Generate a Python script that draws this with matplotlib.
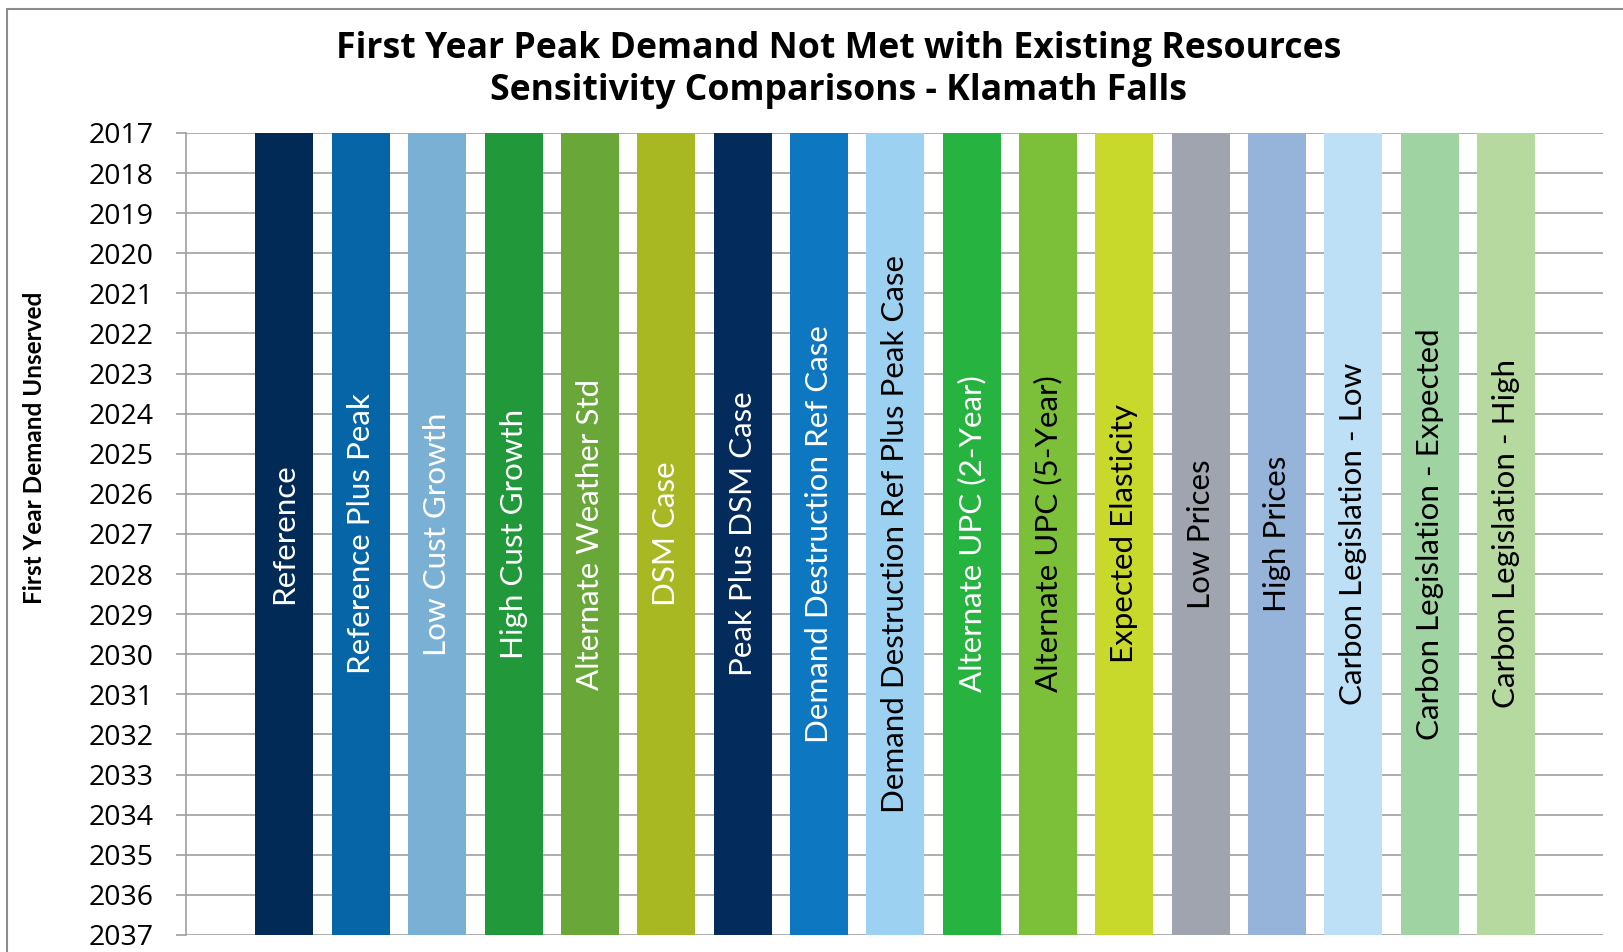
import matplotlib
matplotlib.use("Agg")
import matplotlib.pyplot as plt
from matplotlib.patches import Rectangle

plt.rcParams['font.family'] = ['Lato', 'DejaVu Sans']

cases = ["Reference", "Reference Plus Peak", "Low Cust Growth", "High Cust Growth",
         "Alternate Weather Std", "DSM Case", "Peak Plus DSM Case",
         "Demand Destruction Ref Case", "Demand Destruction Ref Plus Peak Case",
         "Alternate UPC (2-Year)", "Alternate UPC (5-Year)", "Expected Elasticity",
         "Low Prices", "High Prices", "Carbon Legislation - Low",
         "Carbon Legislation - Expected", "Carbon Legislation - High"]
first_year = [2017, 2017, 2017, 2017, 2017, 2017, 2017, 2017, 2017,
              2017, 2017, 2017, 2017, 2017, 2017, 2017, 2017]
end_year = 2037
years = list(range(2017, 2038))

bar_colors = ["#022a57", "#0565a6", "#7ab0d4", "#21993b", "#6aa739", "#a8b823",
              "#032b5b", "#0d77c1", "#9dd1f2", "#27b33f", "#7cc03a", "#c8d92c",
              "#a0a4ae", "#96b3da", "#bde0f6", "#9fd3a2", "#b6d99f"]
label_colors = ["white", "white", "white", "white", "white", "white", "white", "white",
                "black", "white", "black", "black", "black", "black", "black", "black", "black"]

fig = plt.figure(figsize=(16.24, 9.52), dpi=100)
ax = fig.add_axes([186/1624, 1-935/952, (1603-186)/1624, (935-133)/952])

# outer chart frame
fig.patches.append(Rectangle((7/1624, -0.2), 1.2, 1.2 - 9/952, transform=fig.transFigure,
                             fill=False, edgecolor="#8c8c8c", linewidth=1.5))

x = range(len(cases))
heights = [end_year - y for y in first_year]
ax.bar(x, heights, bottom=first_year, width=0.76, color=bar_colors, zorder=2)

for i, name in enumerate(cases):
    ax.text(i, (first_year[i] + end_year) / 2, name, rotation=90, ha='center', va='center',
            fontsize=22.6, color=label_colors[i], zorder=3)

ax.set_ylim(end_year, 2017)
ax.set_xlim(-1.29, len(cases) - 1 + 1.27)
ax.set_yticks(years)
ax.set_yticklabels([str(y) for y in years], fontsize=20.5, family=['Open Sans', 'DejaVu Sans'])
ax.set_xticks([])
ax.yaxis.grid(True, color="#a0a0a0", linewidth=1.2, zorder=0)
ax.set_axisbelow(True)
ax.tick_params(axis='y', length=7, color="#a0a0a0", width=1.2, pad=16)
for s in ['top', 'right', 'bottom']:
    ax.spines[s].set_visible(False)
ax.spines['left'].set_color("#a0a0a0")
ax.spines['left'].set_linewidth(1.2)

fig.text(839/1624, 1-70/952,
         "First Year Peak Demand Not Met with Existing Resources\nSensitivity Comparisons - Klamath Falls",
         ha='center', va='center', fontsize=25.7, fontweight='bold', linespacing=1.2,
         family=['Open Sans', 'DejaVu Sans'])
fig.text(35/1624, 1-448/952, "First Year Demand Unserved", rotation=90, ha='center', va='center',
         fontsize=17.5, fontweight='bold')

fig.savefig("out.png", dpi=100)
